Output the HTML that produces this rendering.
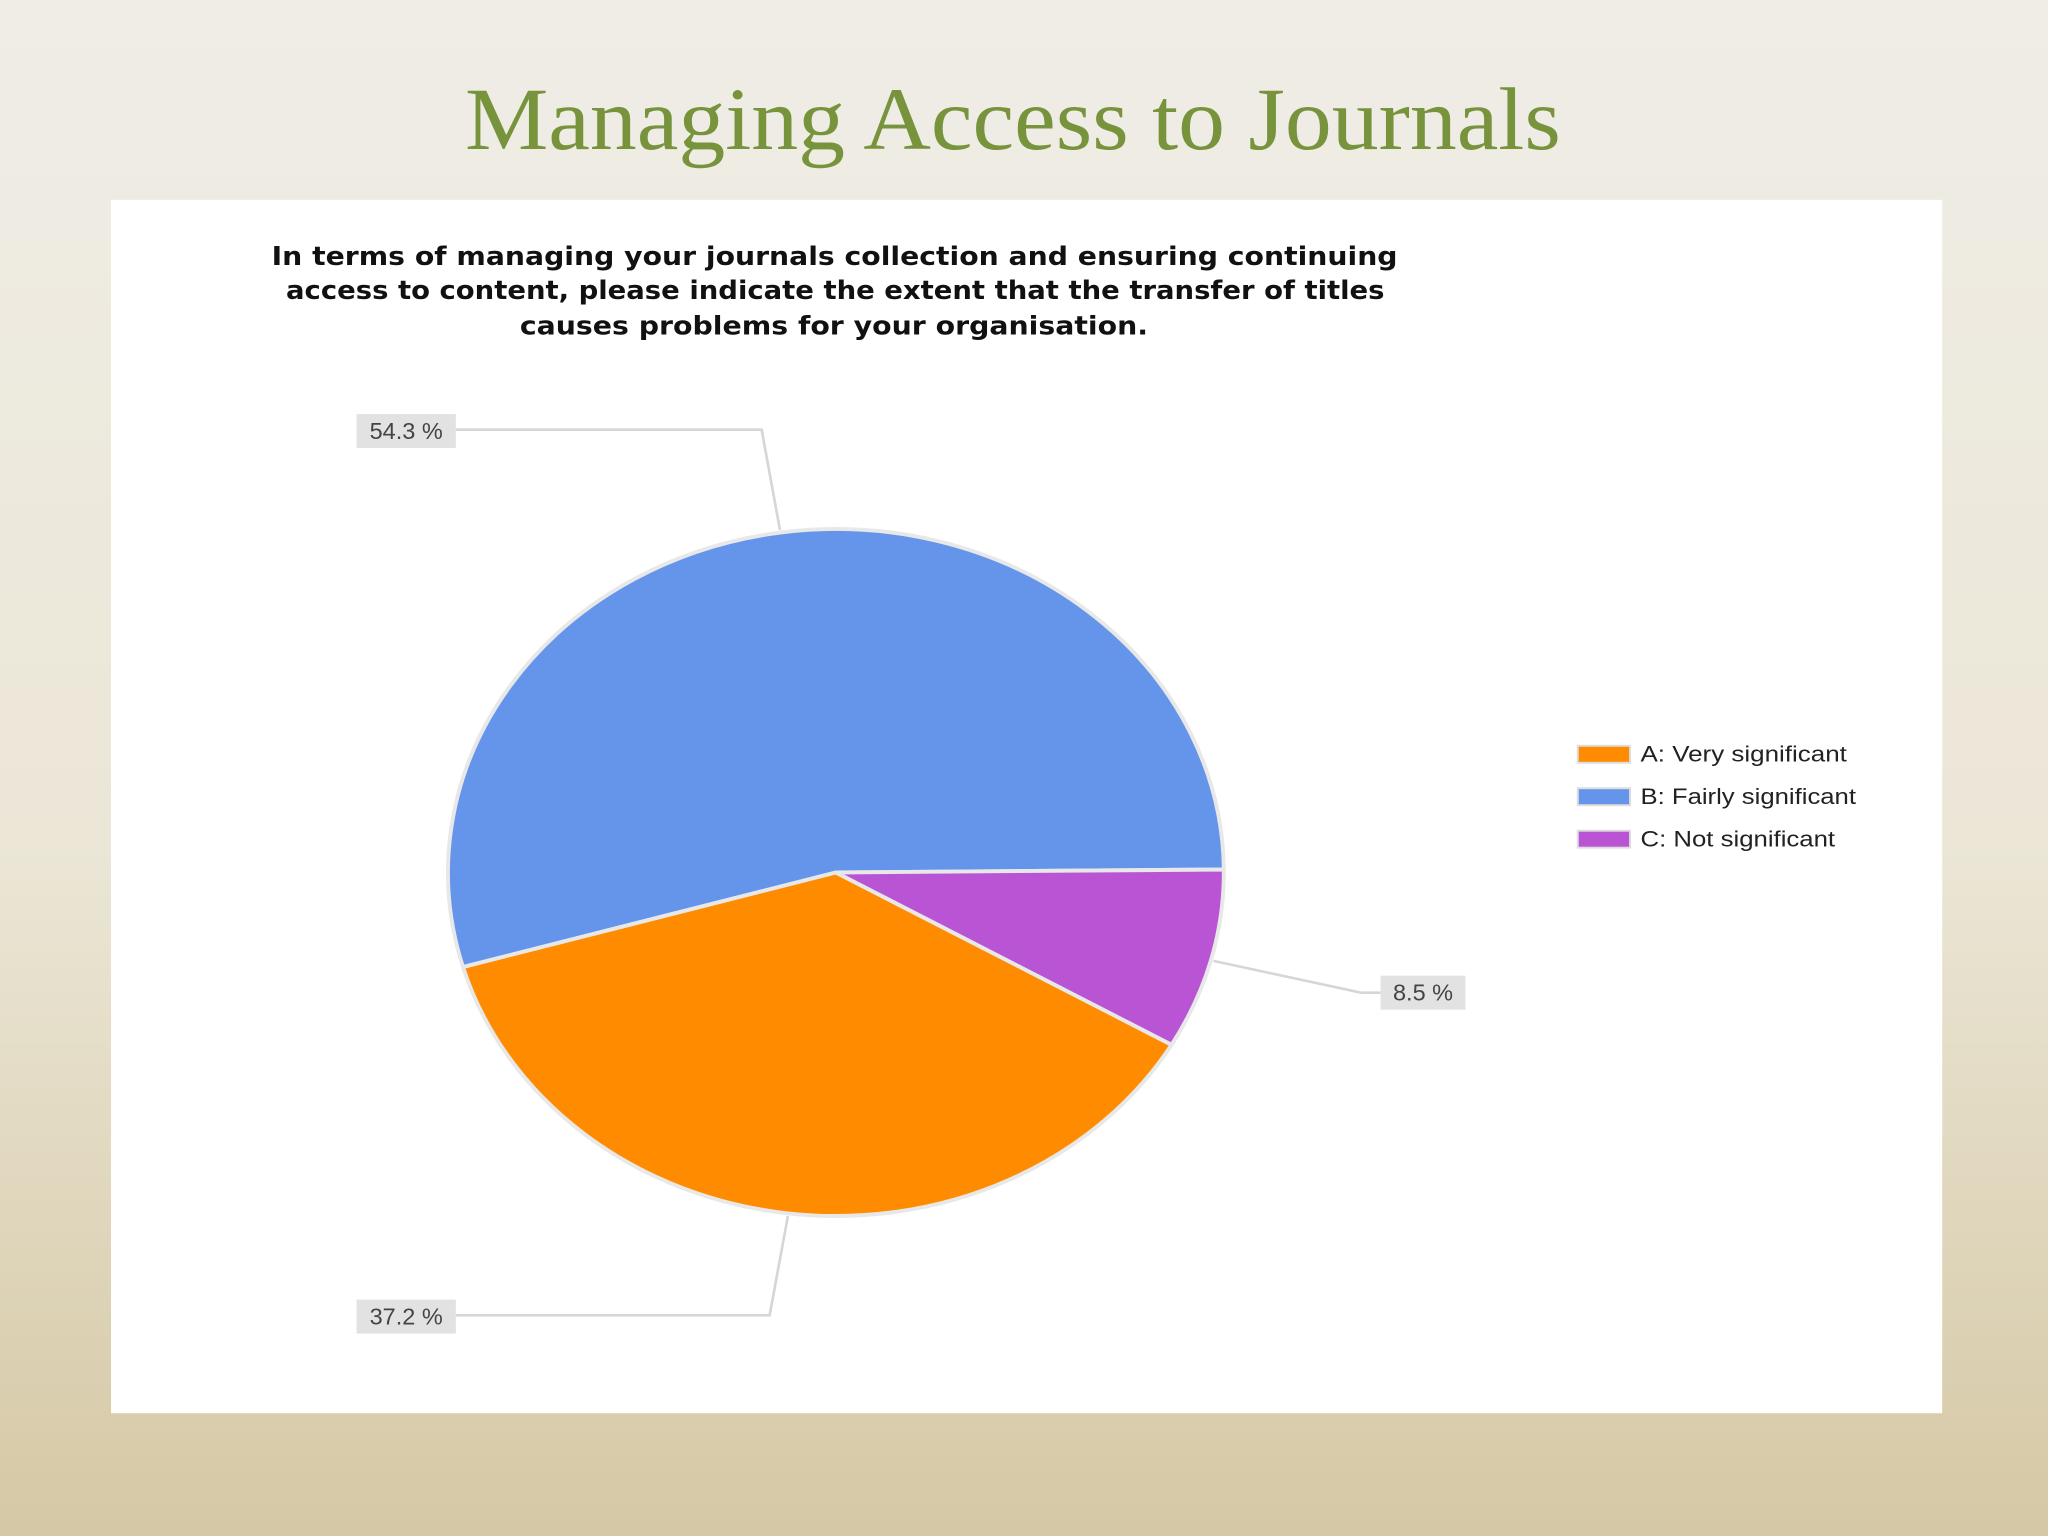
<!DOCTYPE html>
<html><head><meta charset="utf-8"><style>
html,body{margin:0;padding:0;width:2048px;height:1536px;overflow:hidden}
svg{display:block}
</style></head><body>
<svg id="chart" width="2048" height="1536" viewBox="0 0 1568 1176" preserveAspectRatio="none" xmlns="http://www.w3.org/2000/svg">
<defs><linearGradient id="bg" x1="0" y1="0" x2="0" y2="1">
<stop offset="0" stop-color="#efede6"/><stop offset="0.55" stop-color="#ebe6d6"/><stop offset="1" stop-color="#d5c8a5"/></linearGradient></defs>
<rect x="0" y="0" width="1568" height="1176" fill="url(#bg)"/>
<text x="356" y="114" textLength="839" lengthAdjust="spacingAndGlyphs" font-family="Liberation Serif, serif" font-size="68" fill="#77933c">Managing Access to Journals</text>
<rect x="85" y="153" width="1402" height="929" fill="#ffffff"/>
<g font-family="DejaVu Sans, sans-serif" font-weight="bold" font-size="20" fill="#111" lengthAdjust="spacingAndGlyphs">
<text x="208" y="203" textLength="862" lengthAdjust="spacingAndGlyphs">In terms of managing your journals collection and ensuring continuing</text>
<text x="219" y="229" textLength="841" lengthAdjust="spacingAndGlyphs">access to content, please indicate the extent that the transfer of titles</text>
<text x="398" y="256" textLength="481" lengthAdjust="spacingAndGlyphs">causes problems for your organisation.</text>
</g>
<g id="pie"></g>
<g id="labels"></g>
<g id="legend"></g>
</svg>
<script>
const categories = ["A: Very significant", "B: Fairly significant", "C: Not significant"];
const values = [37.2, 54.3, 8.5];
const colors = ["#ff8c00", "#6495ea", "#b955d5"];
const drawOrder = [1, 0, 2];
const NS = "http://www.w3.org/2000/svg";
const cx = 640, cy = 668, rx = 297, ry = 263;
const pie = document.getElementById('pie');
const labels = document.getElementById('labels');
const legend = document.getElementById('legend');
function mk(tag, attrs, parent){const e=document.createElementNS(NS,tag);for(const k in attrs)e.setAttribute(k,attrs[k]);parent.appendChild(e);return e;}
function pt(a){return [cx+rx*Math.cos(a), cy-ry*Math.sin(a)];}
const total = values.reduce((s,v)=>s+v,0);
let ang = 0.5*Math.PI/180;
const labelBox = {0:{bx:273,by:995,w:76,side:'left'},1:{bx:273,by:317,w:76,side:'left'},2:{bx:1057,by:747,w:65,side:'right'}};
drawOrder.forEach(i=>{
  const sweep = values[i]/total*2*Math.PI;
  const a0 = ang, a1 = ang+sweep;
  const p0 = pt(a0), p1 = pt(a1);
  const large = sweep > Math.PI ? 1 : 0;
  const path = mk('path',{d:`M${cx},${cy} L${p0[0]},${p0[1]} A${rx},${ry} 0 ${large} 0 ${p1[0]},${p1[1]} Z`,fill:colors[i],stroke:'#e8e8e8','stroke-width':3},pie);
  
  
  const mid = (a0+a1)/2;
  const b = labelBox[i];
  const edge = [cx+(rx+2)*Math.cos(mid), cy-(ry+2)*Math.sin(mid)];
  let pts;
  if(b.side==='left'){
    pts = `${b.bx+b.w},${b.by+12} ${edge[0]-14},${b.by+12} ${edge[0]},${edge[1]}`;
  } else {
    pts = `${b.bx},${b.by+13} ${b.bx-15},${b.by+13} ${edge[0]},${edge[1]}`;
  }
  const ln = mk('polyline',{points:pts,fill:'none',stroke:'#d6d6d6','stroke-width':2},labels);
  
  
  const r = mk('rect',{x:b.bx,y:b.by,width:b.w,height:26,fill:'#e2e2e2'},labels);
  
  
  const t = mk('text',{x:b.bx+b.w/2,y:b.by+19,'text-anchor':'middle','font-family':'Liberation Sans, sans-serif','font-size':18,fill:'#444'},labels);
  t.textContent = values[i].toFixed(1) + ' %';
  
  
  ang = a1;
});
const legendLen = [158, 165, 149];
categories.forEach((c,i)=>{
  const y = 571 + i*32.5;
  const g = mk('g',{},legend);
  
  
  mk('rect',{x:1208,y:y,width:40,height:13,fill:colors[i],stroke:'#ddd','stroke-width':1.5},g);
  const t = mk('text',{x:1256,y:y+12,textLength:legendLen[i],lengthAdjust:'spacingAndGlyphs','font-family':'Liberation Sans, sans-serif','font-size':17,fill:'#222'},g);
  t.textContent = c;
});
</script>
</body></html>
